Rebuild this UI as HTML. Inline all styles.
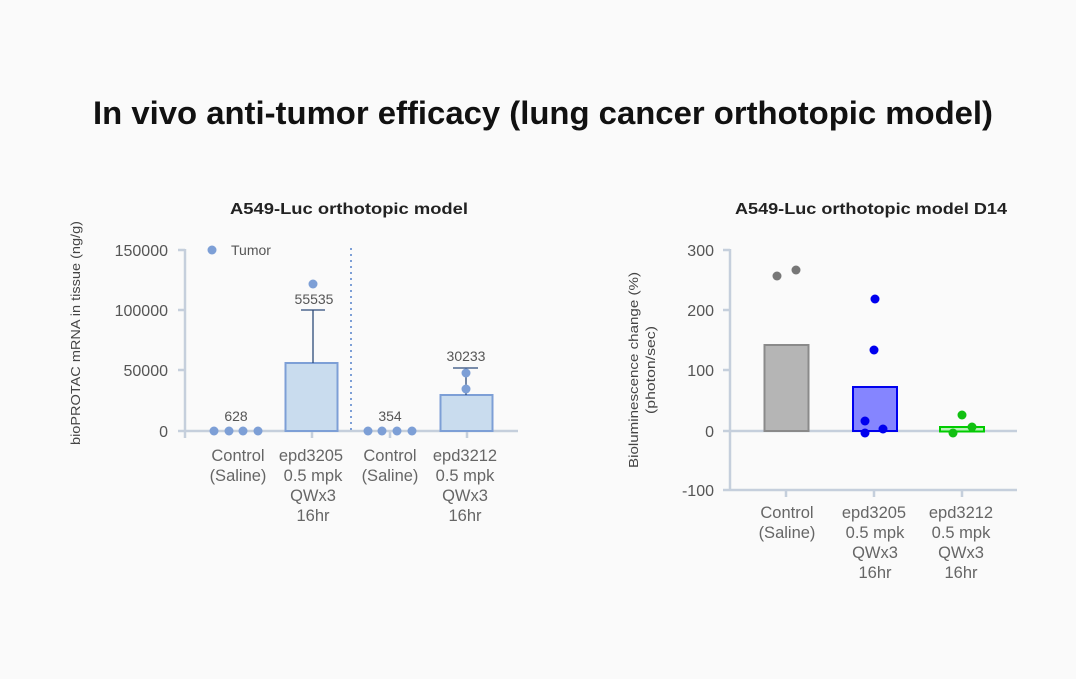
<!DOCTYPE html>
<html><head><meta charset="utf-8"><style>
html,body{margin:0;padding:0;background:#fafafa;}
svg{display:block;font-family:"Liberation Sans",sans-serif;}
</style></head><body>
<svg width="1076" height="679" viewBox="0 0 1076 679">
<rect width="1076" height="679" fill="#fafafa"/>
<text x="543" y="124" text-anchor="middle" font-size="32" font-weight="bold" fill="#111" textLength="900" lengthAdjust="spacingAndGlyphs">In vivo anti-tumor efficacy (lung cancer orthotopic model)</text>

<!-- Left chart -->
<text x="349" y="214" text-anchor="middle" font-size="16" font-weight="bold" fill="#222" textLength="238" lengthAdjust="spacingAndGlyphs">A549-Luc orthotopic model</text>
<g stroke="#c5cfdc" stroke-width="2.5" fill="none">
<line x1="185" y1="249" x2="185" y2="438"/>
<line x1="178" y1="431" x2="518" y2="431"/>
<line x1="178" y1="250" x2="185" y2="250"/>
<line x1="178" y1="310" x2="185" y2="310"/>
<line x1="178" y1="370" x2="185" y2="370"/>
<line x1="312" y1="431" x2="312" y2="438"/>
<line x1="390" y1="431" x2="390" y2="438"/>
<line x1="467" y1="431" x2="467" y2="438"/>
</g>
<g font-size="16" fill="#555" text-anchor="end">
<text x="168" y="256">150000</text>
<text x="168" y="316">100000</text>
<text x="168" y="376">50000</text>
<text x="168" y="437">0</text>
</g>
<text transform="translate(80,333) rotate(-90)" text-anchor="middle" font-size="13" fill="#444" textLength="224" lengthAdjust="spacingAndGlyphs">bioPROTAC mRNA in tissue (ng/g)</text>
<line x1="351" y1="248" x2="351" y2="431" stroke="#7d9fd6" stroke-width="2" stroke-dasharray="2,4"/>
<rect x="285.5" y="363" width="52" height="68" fill="#c9dcee" stroke="#7d9fd6" stroke-width="2"/>
<rect x="440.5" y="395" width="52" height="36" fill="#c9dcee" stroke="#7d9fd6" stroke-width="2"/>
<g stroke="#2c4a7a" stroke-width="1.3">
<line x1="313" y1="310" x2="313" y2="363"/><line x1="301" y1="310" x2="325" y2="310"/>
<line x1="466" y1="368" x2="466" y2="395"/><line x1="453" y1="368" x2="478" y2="368"/>
</g>
<g fill="#7d9fd6">
<circle cx="214" cy="431" r="4.5"/><circle cx="229" cy="431" r="4.5"/><circle cx="243" cy="431" r="4.5"/><circle cx="258" cy="431" r="4.5"/>
<circle cx="368" cy="431" r="4.5"/><circle cx="382" cy="431" r="4.5"/><circle cx="397" cy="431" r="4.5"/><circle cx="412" cy="431" r="4.5"/>
<circle cx="313" cy="284" r="4.5"/><circle cx="466" cy="373" r="4.5"/><circle cx="466" cy="389" r="4.5"/>
<circle cx="212" cy="250" r="4.5"/>
</g>
<text x="231" y="255" font-size="14" fill="#555">Tumor</text>
<g font-size="14" fill="#555" text-anchor="middle">
<text x="236" y="421">628</text><text x="314" y="304">55535</text>
<text x="390" y="421">354</text><text x="466" y="361">30233</text>
</g>
<g font-size="16.5" fill="#666" text-anchor="middle">
<text x="238" y="461">Control</text><text x="238" y="481">(Saline)</text>
<text x="311" y="461">epd3205</text><text x="313" y="481">0.5 mpk</text><text x="313" y="501">QWx3</text><text x="313" y="521">16hr</text>
<text x="390" y="461">Control</text><text x="390" y="481">(Saline)</text>
<text x="465" y="461">epd3212</text><text x="465" y="481">0.5 mpk</text><text x="465" y="501">QWx3</text><text x="465" y="521">16hr</text>
</g>

<!-- Right chart -->
<text x="871" y="214" text-anchor="middle" font-size="16" font-weight="bold" fill="#222" textLength="272" lengthAdjust="spacingAndGlyphs">A549-Luc orthotopic model D14</text>
<g stroke="#c5cfdc" stroke-width="2.5" fill="none">
<line x1="730" y1="249" x2="730" y2="491"/>
<line x1="723" y1="250" x2="730" y2="250"/>
<line x1="723" y1="310" x2="730" y2="310"/>
<line x1="723" y1="370" x2="730" y2="370"/>
<line x1="723" y1="431" x2="1017" y2="431"/>
<line x1="723" y1="490" x2="1017" y2="490"/>
<line x1="786" y1="490" x2="786" y2="497"/>
<line x1="874" y1="490" x2="874" y2="497"/>
<line x1="962" y1="490" x2="962" y2="497"/>
</g>
<g font-size="16" fill="#555" text-anchor="end">
<text x="714" y="256">300</text><text x="714" y="316">200</text><text x="714" y="376">100</text>
<text x="714" y="437">0</text><text x="714" y="496">-100</text>
</g>
<text transform="translate(638,370) rotate(-90)" text-anchor="middle" font-size="12.5" fill="#444" textLength="196" lengthAdjust="spacingAndGlyphs">Bioluminescence change (%)</text>
<text transform="translate(655,370) rotate(-90)" text-anchor="middle" font-size="12.5" fill="#444" textLength="88" lengthAdjust="spacingAndGlyphs">(photon/sec)</text>
<rect x="764.5" y="345" width="44" height="86" fill="#b5b5b5" stroke="#8a8a8a" stroke-width="2"/>
<rect x="853" y="387" width="44" height="44" fill="#8585ff" stroke="#0000ee" stroke-width="2"/>
<rect x="940" y="427" width="44" height="4.5" fill="#b8f0b8" stroke="#00cc00" stroke-width="2"/>
<circle cx="777" cy="276" r="4.5" fill="#777"/><circle cx="796" cy="270" r="4.5" fill="#777"/>
<g fill="#0000ee">
<circle cx="875" cy="299" r="4.5"/><circle cx="874" cy="350" r="4.5"/><circle cx="865" cy="421" r="4.5"/><circle cx="865" cy="433" r="4.5"/><circle cx="883" cy="429" r="4.5"/>
</g>
<g fill="#11c011">
<circle cx="962" cy="415" r="4.5"/><circle cx="972" cy="427" r="4.5"/><circle cx="953" cy="433" r="4.5"/>
</g>
<g font-size="16.5" fill="#666" text-anchor="middle">
<text x="787" y="518">Control</text><text x="787" y="538">(Saline)</text>
<text x="874" y="518">epd3205</text><text x="875" y="538">0.5 mpk</text><text x="875" y="558">QWx3</text><text x="875" y="578">16hr</text>
<text x="961" y="518">epd3212</text><text x="961" y="538">0.5 mpk</text><text x="961" y="558">QWx3</text><text x="961" y="578">16hr</text>
</g>
</svg>
</body></html>
